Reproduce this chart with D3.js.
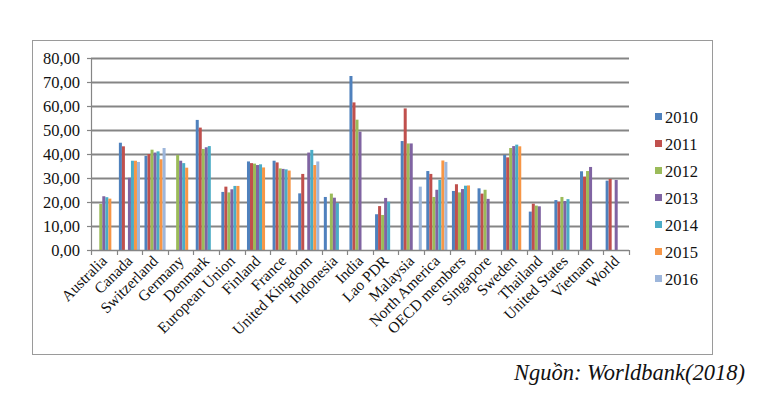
<!DOCTYPE html>
<html><head><meta charset="utf-8">
<script src="https://cdn.jsdelivr.net/npm/d3@7"></script>
<style>body{margin:0;background:#fff}svg{display:block}
svg text{font-family:"Liberation Serif","Times New Roman","DejaVu Serif",serif}</style>
</head><body>
<script>
const categories = ["Australia","Canada","Switzerland","Germany","Denmark","European Union","Finland","France","United Kingdom","Indonesia","India","Lao PDR","Malaysia","North America","OECD members","Singapore","Sweden","Thailand","United States","Vietnam","World"];
const seriesNames = ["2010","2011","2012","2013","2014","2015","2016"];
const v2010 = [null,44.7,39.2,null,54.2,24.2,36.9,37.2,23.6,22.1,72.5,14.9,45.4,32.9,24.6,25.7,39.6,16.0,20.8,32.8,28.9];
const v2011 = [null,43.2,40.0,null,51.0,26.4,36.2,36.5,31.7,null,61.5,18.3,59.0,31.7,27.4,23.5,38.6,19.3,20.1,30.6,29.6];
const v2012 = [19.2,null,41.8,39.6,42.1,24.0,36.0,34.0,null,23.5,54.3,14.6,44.4,22.1,24.0,25.1,42.5,18.5,22.1,32.9,null];
const v2013 = [22.4,30.1,40.6,37.2,42.8,25.3,35.4,33.8,40.6,21.8,49.3,21.7,44.4,25.1,25.4,21.3,43.3,18.2,20.4,34.6,29.2];
const v2014 = [22.0,37.2,41.1,36.2,43.3,26.7,35.7,33.6,41.7,19.6,null,20.1,null,29.2,26.8,null,43.9,null,21.2,null,null];
const v2015 = [21.4,37.2,37.8,34.3,null,26.7,34.4,33.1,35.4,null,null,null,null,37.3,26.9,null,43.2,null,null,null,null];
const v2016 = [null,36.7,42.5,null,null,null,null,null,36.9,null,null,null,26.4,36.7,null,null,null,null,null,null,null];
const seriesValues = [v2010,v2011,v2012,v2013,v2014,v2015,v2016];
const yTicks = [0,10,20,30,40,50,60,70,80];
const colors = ["#4F81BD","#C0504D","#9BBB59","#8064A2","#4BACC6","#F79646","#9DB6DB"];
const sourceText = "Nguồn: Worldbank(2018)";

const W = 770, H = 406;
const svg = d3.select("body").append("svg").attr("width", W).attr("height", H);

// frame
svg.append("rect").attr("x",32.5).attr("y",40.5).attr("width",680).attr("height",314)
  .attr("fill","#fff").attr("stroke","#9a9a9a").attr("stroke-width",1);

const pLeft = 91, pRight = 629, pTop = 58, pBottom = 250;
const x0 = d3.scaleBand().domain(categories).range([pLeft, pRight]).padding(0);
const x1 = d3.scaleBand().domain(seriesNames).range([0, x0.bandwidth()]).paddingInner(0).paddingOuter(0.75);
const y = d3.scaleLinear().domain([0,80]).range([pBottom, pTop]);

// gridlines
svg.append("g").selectAll("line").data(yTicks.slice(1)).join("line")
  .attr("x1", pLeft).attr("x2", pRight)
  .attr("y1", d => Math.round(y(d))+0.5).attr("y2", d => Math.round(y(d))+0.5)
  .attr("stroke","#858585").attr("stroke-width",1.8);

// y axis
const yAxis = svg.append("g").attr("transform",`translate(${pLeft},0)`)
  .call(d3.axisLeft(y).tickValues(yTicks).tickSize(4).tickPadding(7)
    .tickFormat(d => d3.format(".2f")(d).replace(".",",")));
yAxis.attr("font-family", null);
yAxis.select(".domain").attr("stroke","#858585").attr("stroke-width",1.2);
yAxis.selectAll(".tick line").attr("stroke","#858585").attr("stroke-width",1.2);
yAxis.selectAll("text").style("font-size","16.5px").attr("fill","#111");

// bars
const data = [];
categories.forEach((c,i) => seriesNames.forEach((s,j) => {
  const v = seriesValues[j][i];
  if (v != null) data.push({c, s, v, j});
}));
svg.append("g").selectAll("rect").data(data).join("rect")
  .attr("x", d => x0(d.c) + x1(d.s))
  .attr("width", x1.bandwidth())
  .attr("y", d => y(d.v))
  .attr("height", d => y(0) - y(d.v))
  .attr("fill", d => colors[d.j]);

// x axis
const xg = svg.append("g");
xg.append("line").attr("x1",pLeft).attr("x2",pRight).attr("y1",pBottom+0.5).attr("y2",pBottom+0.5)
  .attr("stroke","#858585").attr("stroke-width",1.4);
const bounds = categories.map(c => x0(c)).concat([x0(categories[categories.length-1]) + x0.bandwidth()]);
xg.selectAll("line.t").data(bounds).join("line").attr("class","t")
  .attr("x1", d => Math.round(d)+0.5).attr("x2", d => Math.round(d)+0.5)
  .attr("y1", pBottom).attr("y2", pBottom+5).attr("stroke","#858585").attr("stroke-width",1.2);
xg.selectAll("text").data(categories).join("text")
  .attr("transform", d => `translate(${x0(d)+x0.bandwidth()/2+4},${pBottom+12}) rotate(-45)`)
  .attr("text-anchor","end").style("font-size","15.5px").attr("fill","#111")
  .text(d => d);

// legend
const lg = svg.append("g");
seriesNames.forEach((s,j) => {
  const yy = 117 + j*27;
  lg.append("rect").attr("x",655).attr("y",yy-4).attr("width",7).attr("height",7).attr("fill",colors[j]);
  lg.append("text").attr("x",665).attr("y",yy+6).style("font-size","16.5px")
    .attr("fill","#111").text(s);
});

// source
svg.append("text").attr("x",745).attr("y",380).attr("text-anchor","end")
  .style("font-style","italic").style("font-size","22.5px").attr("fill","#111")
  .text(sourceText);
</script>
</body></html>
